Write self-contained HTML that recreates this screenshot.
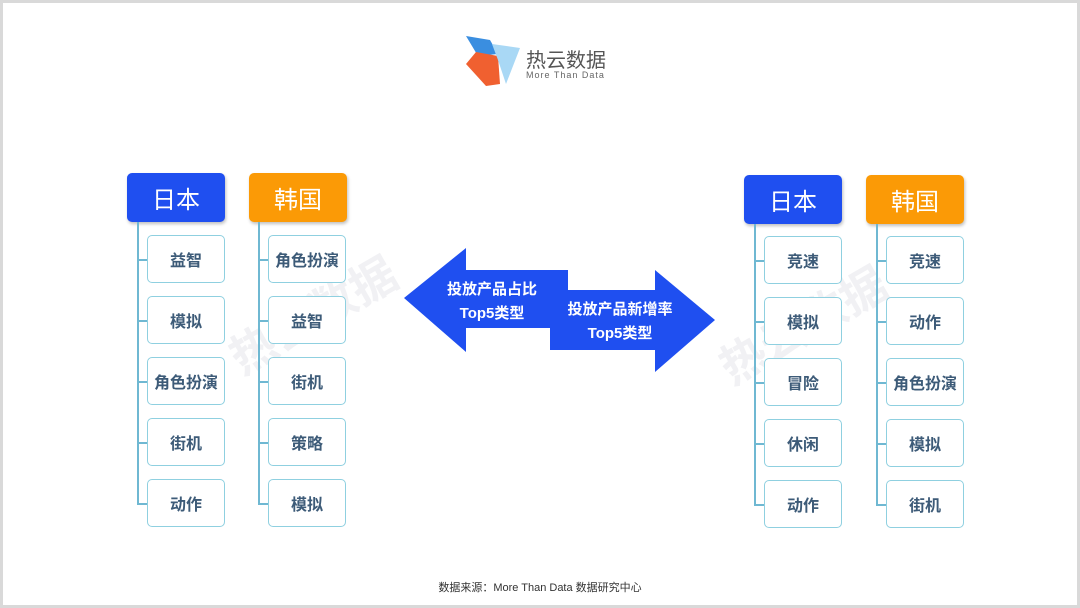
<!DOCTYPE html>
<html><head><meta charset="utf-8"><style>
*{margin:0;padding:0;box-sizing:border-box}
body{width:1080px;height:608px;background:#fff;position:relative;overflow:hidden;font-family:"Liberation Sans","Noto Sans CJK SC",sans-serif}
.frame{position:absolute;left:0;top:0;width:1080px;height:608px;border:3px solid #d9d9d9}
.h{position:absolute;width:98px;height:49px;border-radius:5px;color:#fff;font-size:24px;display:flex;align-items:center;justify-content:center;box-shadow:1px 2px 3px rgba(0,0,0,.25)}
.jp{background:#1f4ff0}.kr{background:#fb9a06}
.i{position:absolute;width:78px;height:48px;border:1.5px solid #8fd0e0;border-radius:5px;background:#fff;color:#3d5b78;font-weight:bold;font-size:16px;display:flex;align-items:center;justify-content:center}
.vl{position:absolute;width:1.5px;background:#6fb8d2}
.hl{position:absolute;height:1.5px;width:10px;background:#6fb8d2}
.wm{position:absolute;color:rgba(200,200,210,.25);font-size:46px;transform:rotate(-30deg);font-weight:bold}
</style></head><body>
<div class="frame"></div>
<div class="wm" style="left:220px;top:280px">热云数据</div>
<div class="wm" style="left:710px;top:290px">热云数据</div>
<svg style="position:absolute;left:0;top:0" width="1080" height="608">
<polygon points="466,36 490,40 498,54 478,56" fill="#3a8ee0"/>
<polygon points="476,52 498,56 500,84 486,86 466,64" fill="#f06030"/>
<polygon points="492,44 520,48 506,84 498,60" fill="#a9d8f5"/>
<polygon points="404,298 466,248 466,270 568,270 568,328 466,328 466,352" fill="#1f4ff0"/>
<polygon points="550,290 655,290 655,270 715,320 655,372 655,350 550,350" fill="#1f4ff0"/>
<text x="492" y="294" font-size="15" font-weight="bold" fill="#fff" text-anchor="middle" font-family="Liberation Sans,Noto Sans CJK SC,sans-serif">投放产品占比</text>
<text x="492" y="318" font-size="15" font-weight="bold" fill="#fff" text-anchor="middle" font-family="Liberation Sans,Noto Sans CJK SC,sans-serif">Top5类型</text>
<text x="620" y="314" font-size="15" font-weight="bold" fill="#fff" text-anchor="middle" font-family="Liberation Sans,Noto Sans CJK SC,sans-serif">投放产品新增率</text>
<text x="620" y="338" font-size="15" font-weight="bold" fill="#fff" text-anchor="middle" font-family="Liberation Sans,Noto Sans CJK SC,sans-serif">Top5类型</text>
</svg>
<div style="position:absolute;left:526px;top:44px;font-size:20px;color:#555">热云数据</div>
<div style="position:absolute;left:526px;top:70px;font-size:9px;color:#666;letter-spacing:1px">More Than Data</div>

<div class="h jp" style="left:127px;top:173px">日本</div>
<div class="h kr" style="left:249px;top:173px">韩国</div>
<div class="h jp" style="left:744px;top:175px">日本</div>
<div class="h kr" style="left:866px;top:175px">韩国</div>

<div class="vl" style="left:137px;top:222px;height:282px"></div>
<div class="vl" style="left:258px;top:222px;height:282px"></div>
<div class="vl" style="left:754px;top:224px;height:282px"></div>
<div class="vl" style="left:876px;top:224px;height:282px"></div>

<div class="hl" style="left:137px;top:259px"></div><div class="hl" style="left:137px;top:320px"></div><div class="hl" style="left:137px;top:381px"></div><div class="hl" style="left:137px;top:442px"></div><div class="hl" style="left:137px;top:503px"></div>
<div class="hl" style="left:258px;top:259px"></div><div class="hl" style="left:258px;top:320px"></div><div class="hl" style="left:258px;top:381px"></div><div class="hl" style="left:258px;top:442px"></div><div class="hl" style="left:258px;top:503px"></div>
<div class="hl" style="left:754px;top:260px"></div><div class="hl" style="left:754px;top:321px"></div><div class="hl" style="left:754px;top:382px"></div><div class="hl" style="left:754px;top:443px"></div><div class="hl" style="left:754px;top:504px"></div>
<div class="hl" style="left:876px;top:260px"></div><div class="hl" style="left:876px;top:321px"></div><div class="hl" style="left:876px;top:382px"></div><div class="hl" style="left:876px;top:443px"></div><div class="hl" style="left:876px;top:504px"></div>

<div class="i" style="left:147px;top:235px">益智</div>
<div class="i" style="left:147px;top:296px">模拟</div>
<div class="i" style="left:147px;top:357px">角色扮演</div>
<div class="i" style="left:147px;top:418px">街机</div>
<div class="i" style="left:147px;top:479px">动作</div>

<div class="i" style="left:268px;top:235px">角色扮演</div>
<div class="i" style="left:268px;top:296px">益智</div>
<div class="i" style="left:268px;top:357px">街机</div>
<div class="i" style="left:268px;top:418px">策略</div>
<div class="i" style="left:268px;top:479px">模拟</div>

<div class="i" style="left:764px;top:236px">竞速</div>
<div class="i" style="left:764px;top:297px">模拟</div>
<div class="i" style="left:764px;top:358px">冒险</div>
<div class="i" style="left:764px;top:419px">休闲</div>
<div class="i" style="left:764px;top:480px">动作</div>

<div class="i" style="left:886px;top:236px">竞速</div>
<div class="i" style="left:886px;top:297px">动作</div>
<div class="i" style="left:886px;top:358px">角色扮演</div>
<div class="i" style="left:886px;top:419px">模拟</div>
<div class="i" style="left:886px;top:480px">街机</div>

<div style="position:absolute;left:0;width:1080px;top:579px;text-align:center;font-size:11px;color:#333">数据来源：More Than Data 数据研究中心</div>
</body></html>
